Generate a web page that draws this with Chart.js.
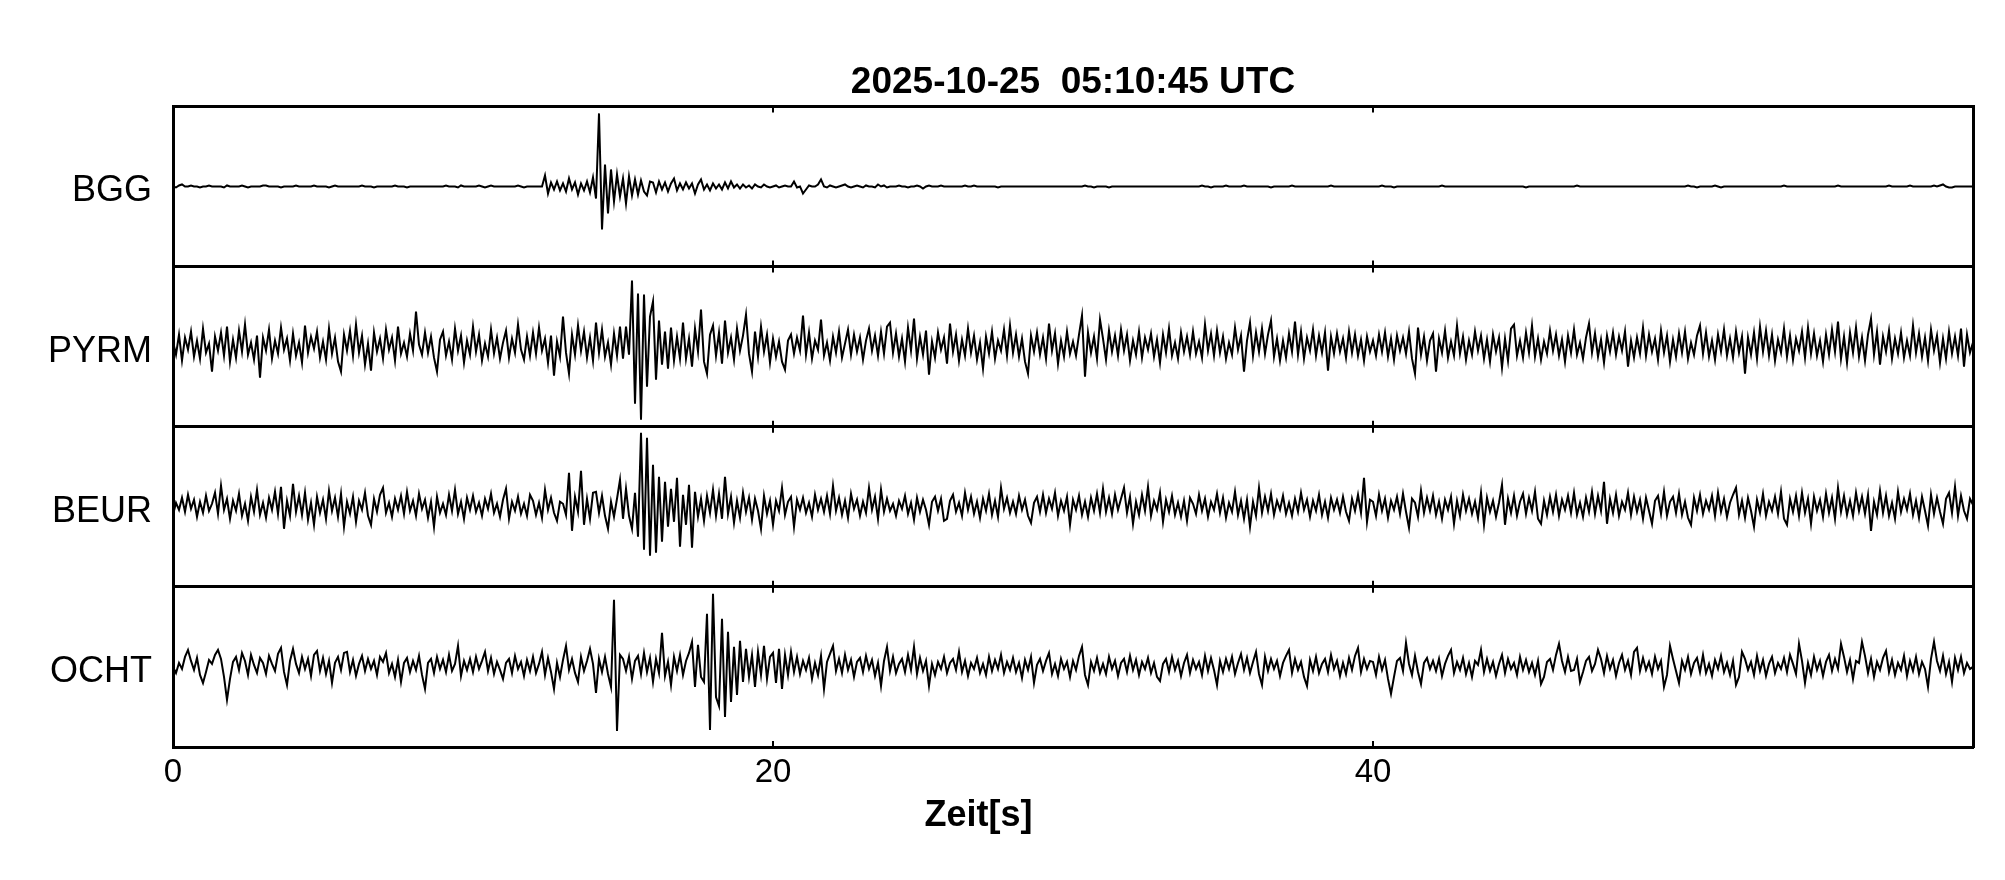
<!DOCTYPE html>
<html>
<head>
<meta charset="utf-8">
<script src="https://cdn.jsdelivr.net/npm/chart.js@4.4.0/dist/chart.umd.min.js"></script>
<style>
html,body{margin:0;padding:0;background:#fff;}
#wrap{width:2005px;height:880px;}
</style>
</head>
<body>
<div id="wrap"><canvas id="c" width="2005" height="880"></canvas></div>
<script>
const TITLE = '2025-10-25  05:10:45 UTC';
const X_LABEL = 'Zeit[s]';
const STATIONS = ['BGG', 'PYRM', 'BEUR', 'OCHT'];
const SAMPLE_INTERVAL = 0.1; // seconds between samples
const X_TICKS = [0, 20, 40];

// trace amplitudes (relative units, panel range -80..80), one sample every 0.1 s
const BGG = [
0,-1,1,2,0,0,1,0,0,-1,
0,0,1,0,0,0,0,-1,1,0,
0,0,0,1,0,-1,0,0,0,0,
1,1,0,0,0,0,-1,0,0,0,
0,1,0,0,0,0,0,1,0,0,
0,0,-1,0,1,0,0,0,0,0,
0,0,0,1,0,0,0,-1,0,0,
0,0,0,0,1,0,0,0,-1,0,
0,0,0,0,0,0,0,0,0,0,
0,1,0,0,0,-1,1,0,0,0,
0,0,1,0,-1,0,1,0,0,0,
0,0,0,0,0,1,0,-1,0,0,
0,0,0,0,11,-7,4,-3,5,-4,
3,-5,8,-3,4,-8,3,-4,5,-6,
9,-12,73,-43,22,-27,17,-15,12,-10,
8,-17,10,-9,7,-8,6,-5,-9,5,
4,-6,5,-3,4,-5,3,8,-4,3,
-3,4,-2,3,-7,2,7,-3,2,-4,
3,-2,2,-3,4,-2,5,-1,2,-2,
2,-1,1,-2,2,0,-1,2,0,-1,
0,1,-1,0,1,0,0,5,-1,0,
-7,-3,1,0,0,2,7,0,-1,1,
0,-1,0,1,2,0,-1,0,1,0,
-1,1,0,0,-1,2,0,1,-1,0,
0,0,1,0,0,-1,0,0,1,0,
-2,0,1,0,0,0,1,0,0,0,
0,0,0,0,1,0,0,1,0,0,
0,0,0,0,0,-1,0,0,0,0,
0,0,0,0,0,0,0,0,0,0,
0,0,0,0,0,0,0,0,0,0,
0,0,0,0,1,0,0,-1,0,0,
0,0,-1,0,0,0,0,0,0,0,
0,0,0,0,0,0,0,0,0,0,
0,0,0,0,0,0,0,0,0,0,
0,0,0,1,0,0,-1,0,0,0,
0,1,0,0,0,0,0,1,0,0,
0,0,0,0,0,0,-1,0,0,0,
0,0,0,1,0,0,0,0,0,0,
0,0,0,0,0,0,1,0,0,0,
0,0,0,0,0,0,0,0,0,0,
0,0,0,1,0,0,0,-1,0,0,
0,0,0,0,0,0,0,0,0,0,
0,0,0,1,0,0,0,0,0,0,
0,0,0,0,0,0,0,0,0,0,
0,0,0,0,0,0,0,0,0,0,
0,-1,0,0,0,0,0,0,0,0,
0,0,0,0,0,0,0,0,1,0,
0,0,0,0,0,0,0,0,0,0,
0,0,0,0,0,0,0,0,0,0,
0,0,0,0,0,0,0,0,0,0,
0,0,0,0,0,1,0,0,-1,0,
0,0,0,0,1,0,-1,0,0,0,
0,0,0,0,0,0,0,0,0,0,
0,0,0,0,0,0,0,1,0,0,
0,0,0,0,0,0,0,0,0,0,
0,0,0,0,0,1,0,0,0,0,
0,0,0,0,0,0,0,0,0,0,
0,0,1,0,0,0,0,0,0,1,
0,0,0,0,0,0,0,1,0,1,
2,0,-1,-1,0,0,0,0,0,0,
0
];

const PYRM = [
5,-8,12,-14,9,-3,15,-10,6,-12,
18,-6,3,-25,10,-4,14,-9,20,-15,
7,-11,16,-5,22,-8,4,-13,11,-31,
9,-4,17,-12,6,-7,19,-3,8,-14,
13,-9,4,-16,21,-6,10,-2,15,-11,
5,-13,18,-7,9,-15,-25,12,-4,16,
-9,22,-6,11,-18,3,-24,14,-5,8,
-12,17,-3,9,-14,20,-7,4,-10,13,
-4,35,2,-8,14,-6,10,-11,-25,7,
15,-9,5,-13,18,-4,11,-16,6,-8,
20,-5,12,-14,3,-10,17,-7,9,-12,
4,16,-11,8,-6,22,-3,-13,10,-9,
14,-7,19,-4,8,-16,11,-29,5,-10,
30,-6,-27,12,-8,21,-4,15,-11,9,
-14,24,-6,17,-10,4,-18,13,-9,20,
-12,20,-8,66,-57,53,-73,52,-40,30,
45,-33,26,-18,15,-22,19,-14,10,-12,
24,-12,8,-20,18,-5,37,-15,-27,12,
21,-9,14,-17,26,-6,9,-13,18,-4,
11,32,-7,-25,15,-10,20,-5,12,-16,
8,-10,5,-15,-23,6,12,-7,9,-4,
31,-8,14,-12,6,-3,27,-9,4,-14,
10,-6,15,-11,3,17,-8,12,-5,9,
-13,6,18,-4,11,-9,15,-7,20,24,
-6,13,-10,8,-15,19,-4,28,-12,10,
-8,16,-28,5,-11,14,-3,9,-17,23,
-5,12,-14,7,-9,18,-6,11,-13,4,
-22,10,-7,15,-12,6,-4,17,-9,21,
-6,12,-10,8,-15,-27,11,-5,14,-8,
9,-12,23,-4,13,-17,6,-10,15,-7,
5,-9,12,31,-30,14,-6,10,-12,27,
8,-13,16,-5,11,-9,17,-4,12,-14,
6,-8,15,-11,9,-3,13,-10,7,-16,
12,-6,18,-9,4,-12,14,-5,10,-8,
15,-7,5,-11,22,-4,13,-9,16,-6,
10,-12,4,-8,19,-3,11,-25,6,24,
-9,14,-5,18,-7,12,26,-10,8,-14,
6,-11,13,-5,25,-8,15,-12,9,-4,
17,-9,11,-6,14,-24,10,-7,13,-5,
8,-11,15,-6,12,-9,7,-14,10,-5,
6,-9,12,-5,14,-10,8,-13,11,-4,
9,-7,15,-12,-27,19,-8,10,-14,6,
13,-25,8,-6,16,-11,5,-9,21,-7,
10,-13,6,-8,15,-4,11,-12,7,-15,
12,-5,9,-21,8,-14,18,22,-9,6,
-11,14,-6,21,-10,8,-13,5,-7,16,
-4,12,-9,7,-15,11,-6,17,-8,4,
-12,9,23,-6,13,-10,7,-16,11,-5,
14,-8,10,-4,15,-20,6,-11,9,-7,
19,-9,12,-5,8,-13,16,-6,11,-15,
7,-10,13,-6,15,-12,4,-8,11,21,
-7,14,-10,6,-13,12,-5,17,-9,8,
-11,15,-6,10,-27,9,-8,14,-12,20,
-5,16,-9,12,-14,7,-6,18,-10,11,
-13,8,-4,15,-11,19,-7,13,-9,6,
-15,12,-8,17,-5,25,-12,10,-16,14,
-6,19,-10,9,-14,12,28,-8,15,-18,
10,-5,16,-12,8,-7,14,-11,6,-9,
21,-6,13,-10,9,-14,17,-4,11,-16,
8,-12,15,-7,10,-9,18,-20,12,-6,
4
];

const BEUR = [
-8,4,-3,9,-5,12,-2,7,-10,5,
-6,11,-4,3,14,-7,21,-3,8,-12,
6,-4,13,-9,3,-14,10,-5,17,-8,
4,-11,9,-3,15,-7,20,-22,6,-9,
23,-5,11,-8,14,-13,4,-18,10,-6,
7,-12,16,-4,9,-10,13,-20,5,-7,
10,-15,6,-3,14,-9,-18,8,-5,12,
19,-6,4,-10,8,-3,11,-7,15,-4,
6,-9,13,-2,7,-11,5,-20,10,-6,
3,-8,12,-4,17,-7,5,-12,9,-3,
11,-5,4,-9,8,-2,13,-6,3,-10,
7,18,-12,5,-4,10,-7,3,-9,12,
6,-8,4,-11,17,-3,9,-6,-14,5,
3,-8,34,-24,10,-5,36,-18,8,-12,
14,15,-6,11,-9,-22,5,-10,8,27,
-12,18,-9,-22,14,-30,74,-43,69,-49,
42,-46,30,-35,25,-20,18,-15,29,-40,
12,-18,22,-41,15,-10,8,-14,11,-6,
17,-9,13,-12,30,-7,10,-16,6,-11,
14,-5,9,-13,8,-4,-22,11,-7,6,
-18,6,-4,19,-8,5,10,-20,7,-3,
9,-6,4,-10,12,-3,8,-5,11,-7,
21,-4,9,-8,6,-11,13,-2,7,-9,
5,-6,19,-3,10,-12,17,-5,8,-4,
3,-9,6,-2,11,-7,4,-13,9,-5,
7,-3,-18,5,10,-4,8,-14,-12,6,
12,-5,4,-9,14,-3,10,-7,5,-11,
8,-4,13,-8,6,-10,19,-2,9,-6,
5,-7,11,-3,7,-9,-16,4,10,-5,
12,-6,8,-2,14,-9,6,-4,10,-18,
7,-3,11,-8,5,-10,9,-4,13,-6,
18,-5,9,-7,12,-3,8,19,-6,10,
-17,5,-8,12,-4,20,-9,6,-3,14,
-15,7,-5,11,-8,4,-10,6,-14,9,
3,-7,12,-4,8,-10,5,-3,13,-6,
9,-11,4,-5,15,-8,6,-12,7,-20,
5,-9,19,-6,10,-4,13,-8,6,-3,
11,-7,4,-9,8,-5,14,-3,7,-10,
6,-4,12,-8,5,-11,9,-3,7,-6,
10,-5,-14,8,-4,12,-6,29,-15,7,
5,-9,12,-4,8,-11,6,-3,10,-7,
13,-5,-21,8,4,-10,16,-6,9,-4,
11,-8,5,-12,7,-3,10,-17,6,-9,
12,-4,8,-7,5,-11,14,-18,9,-5,
6,-10,4,22,-18,8,-6,11,-9,5,
13,-7,9,-4,15,-12,-17,6,-8,10,
-5,12,-9,7,-3,11,-6,14,-8,4,
-10,9,-5,15,-7,11,-4,25,-17,8,
-6,12,-9,5,-3,14,-8,10,-5,7,
-12,9,-4,-17,6,11,-7,15,-9,5,
10,-6,13,-8,5,-11,-18,9,-4,12,
-7,6,-3,11,-9,14,-5,8,-10,4,
12,19,-8,6,-11,9,-4,-20,7,-6,
13,-9,5,-4,10,-7,15,-12,-18,8,
-5,11,-9,14,-6,8,-17,10,-4,7,
-10,13,-6,9,-12,19,-5,11,-8,6,
-9,14,-4,10,-7,12,-24,5,-8,16,
-6,11,-9,4,-12,15,-5,8,-3,13,
-8,6,-11,10,-4,-19,12,-7,9,-5,
-17,8,14,-6,20,-9,11,-4,-12,8,
2
];

const OCHT = [
0,-6,4,-2,10,17,6,-3,9,-8,
-16,-5,7,3,12,17,8,-10,-33,-12,
5,10,-3,14,6,-8,12,2,-6,9,
4,-7,11,3,-4,13,19,-5,-18,6,
18,3,-6,10,-2,8,-9,12,16,-4,
9,-7,6,-16,4,10,-3,14,15,-5,
7,-9,3,11,-4,8,-2,6,-8,10,
5,14,-6,3,-10,7,-15,4,9,-5,
6,-3,11,-8,-22,4,8,-6,10,-2,
7,-5,12,-4,3,21,-9,6,-3,8,
-5,10,-2,6,15,-4,9,-7,5,-3,
-12,4,8,-6,11,-2,5,-9,7,-4,
10,-6,3,15,-8,9,-5,-22,4,-10,
7,21,-3,8,-6,-15,10,-4,6,18,
3,-26,8,-5,10,-7,-20,67,-64,12,
8,-4,10,-12,6,11,-7,14,-5,9,
-15,8,-6,34,-9,5,-18,10,-4,12,
-8,6,14,25,-20,22,-10,-15,53,-63,
73,-30,-39,48,-50,35,-35,20,-28,26,
-15,18,-10,12,-20,15,-8,21,-12,10,
14,-16,18,-22,12,-8,15,-5,10,-7,
6,-3,9,-12,4,-8,11,-22,5,13,
21,-4,8,-6,12,-3,7,-10,5,9,
-5,11,-2,7,-9,4,-19,6,20,-4,
10,-6,3,8,-5,12,-3,20,-7,9,
-4,6,-19,3,-8,5,-2,10,-6,4,
8,-3,15,-5,6,-9,4,-2,9,-6,
3,-8,10,-4,7,-2,12,-6,5,-3,
9,-5,4,-11,7,-3,10,-16,2,8,
-4,6,14,-7,3,-9,8,-2,5,-10,
6,-3,11,20,-8,-18,5,-4,9,-6,
3,-7,10,-2,6,-9,4,8,-5,11,
-3,7,-8,5,-2,9,-6,4,-10,-14,
3,8,-5,10,-3,6,-9,4,12,-6,
7,-2,5,-8,11,-4,9,-3,-18,6,
-5,8,-2,10,-7,4,13,-3,9,-6,
5,15,-7,-18,10,-4,8,-2,6,-9,
4,11,17,-6,8,-3,5,-10,-19,7,
-4,10,-6,3,8,-5,12,-2,6,-9,
4,-7,9,-3,11,19,-5,8,-2,6,
5,-8,10,-3,7,-12,-27,-10,6,9,
-4,24,3,-8,11,-5,-17,4,9,-2,
6,-4,8,-9,3,11,17,-6,5,-3,
9,-7,4,-10,6,2,17,-5,8,-4,
5,-9,3,12,-6,8,-2,4,-8,10,
-3,7,-5,4,-8,6,-17,-10,5,8,
-3,12,23,6,-5,10,-4,-3,8,-15,
-5,6,10,-4,3,17,8,-6,11,-2,
7,-9,4,12,-3,6,-8,15,19,-4,
9,-3,5,-7,10,-2,6,-20,-8,21,
8,-4,-16,6,-3,10,-7,4,9,-5,
12,-6,3,-9,7,-2,11,-5,4,-8,
6,-18,-10,15,8,-3,5,-8,11,-4,
7,-9,3,10,-6,4,-2,9,-5,12,
3,-7,23,6,-16,4,-8,10,-3,6,
-9,5,12,-4,8,-2,23,10,-5,7,
-12,6,4,25,11,-6,8,-10,5,-3,
9,16,-5,7,-8,4,-3,11,-9,6,
-4,10,-7,5,-2,-20,8,25,6,-4,
11,-7,5,-15,9,-3,10,-6,4,-2,
0
];

const TRACES = { BGG, PYRM, BEUR, OCHT };

const FONT = '"Liberation Sans", Arial, Helvetica, sans-serif';

const datasets = STATIONS.map(name => ({
  label: name,
  yAxisID: 'y' + name,
  data: TRACES[name].map((v, i) => ({ x: Math.round(i * SAMPLE_INTERVAL * 10) / 10, y: v })),
  borderColor: '#000',
  borderWidth: 2,
  pointRadius: 0,
  tension: 0,
  fill: false
}));

const scales = {
  x: {
    type: 'linear', position: 'bottom', min: 0, max: 60,
    ticks: {
      stepSize: 20, autoSkip: false, maxRotation: 0, color: '#000', padding: -2,
      font: { family: FONT, size: 33 },
      callback: v => X_TICKS.includes(v) ? String(v) : ''
    },
    grid: { display: false },
    border: { display: true, color: '#000', width: 3 },
    afterFit: s => { s.height = 133; }
  },
  yRight: {
    type: 'linear', position: 'right', display: true,
    ticks: { display: false },
    grid: { display: false },
    border: { display: true, color: '#000', width: 3 },
    afterFit: s => { s.width = 0; }
  }
};

STATIONS.forEach((name, k) => {
  scales['y' + name] = {
    type: 'linear', position: 'left', stack: 'traces', stackWeight: 1,
    weight: STATIONS.length - k,
    min: -80, max: 80,
    ticks: {
      stepSize: 80, color: '#000', padding: 21, labelOffset: 5,
      font: { family: FONT, size: 36 },
      callback: v => v === 0 ? name : ''
    },
    grid: {
      display: true, drawTicks: false, lineWidth: 3,
      color: ctx => (ctx.tick && ctx.tick.value === 0) ? 'rgba(0,0,0,0)' : '#000'
    },
    border: { display: true, color: '#000', width: 3 },
    afterFit: s => { s.width = 173; }
  };
});

const frameTicks = {
  id: 'frameTicks',
  afterDraw(chart) {
    const ctx = chart.ctx;
    const xs = chart.scales.x;
    ctx.save();
    ctx.strokeStyle = '#000';
    ctx.lineWidth = 2;
    const L = 6;
    xs.ticks.forEach(t => {
      if (t.value <= xs.min || t.value >= xs.max) return;
      const px = Math.round(xs.getPixelForValue(t.value));
      STATIONS.forEach(name => {
        const ys = chart.scales['y' + name];
        ctx.beginPath();
        ctx.moveTo(px, ys.top); ctx.lineTo(px, ys.top + L);
        ctx.moveTo(px, ys.bottom); ctx.lineTo(px, ys.bottom - L);
        ctx.stroke();
      });
    });
    ctx.fillStyle = '#000';
    ctx.font = 'bold 36px ' + FONT;
    ctx.textAlign = 'center';
    ctx.textBaseline = 'alphabetic';
    ctx.fillText(X_LABEL, chart.width * 0.488, chart.chartArea.bottom + 79);
    ctx.restore();
  }
};

new Chart(document.getElementById('c'), {
  type: 'line',
  data: { datasets },
  options: {
    responsive: false,
    animation: false,
    devicePixelRatio: 1,
    layout: { padding: { left: 0, right: 32, top: 0, bottom: 0 } },
    plugins: {
      legend: { display: false },
      tooltip: { enabled: false },
      title: {
        display: true, text: TITLE, fullSize: false, color: '#000',
        font: { family: FONT, size: 37, weight: 'bold' },
        padding: { top: 61, bottom: 1 }
      }
    },
    scales
  },
  plugins: [frameTicks]
});
</script>
</body>
</html>
